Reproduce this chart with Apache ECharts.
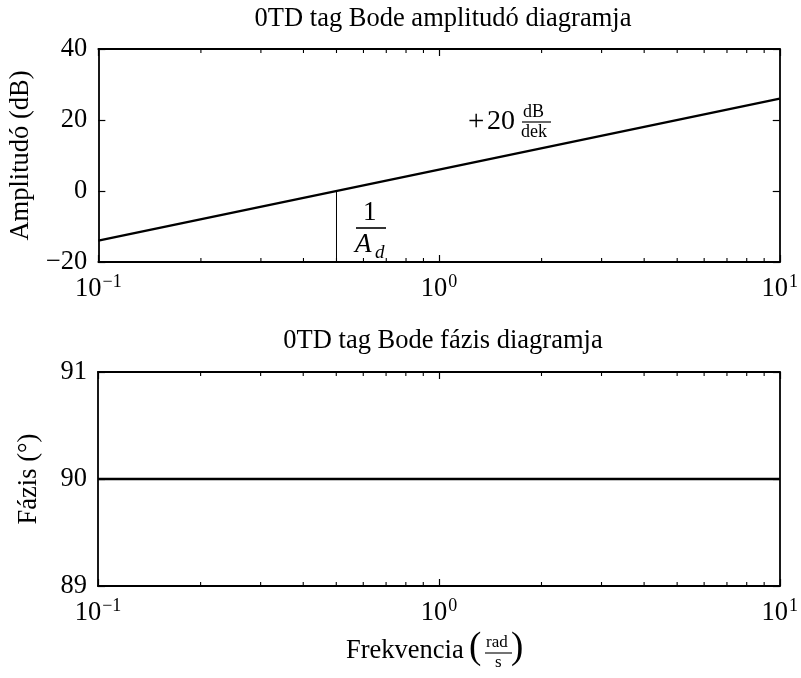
<!DOCTYPE html>
<html>
<head>
<meta charset="utf-8">
<script src="https://cdn.jsdelivr.net/npm/echarts@6/dist/echarts.min.js"></script>
<style>html,body{margin:0;padding:0;background:#fff;}#c{width:801px;height:678px;}</style>
</head>
<body>
<div id="c"></div>
<script>
// ---- data ----
const freq = [0.1, 10];                 // rad/s
const amplitude = [-13.98, 26.02];      // dB (+20 dB/dek)
const crossFreq = 0.5;                  // 1/A_d, where amplitude = 0 dB
const crossLine = [-20, 0];             // vertical marker from bottom to 0 dB
const phase = [90, 90];                 // degrees
const xTicks = [0.1, 1, 10];
const minorTicks = [0.2,0.3,0.4,0.5,0.6,0.7,0.8,0.9,2,3,4,5,6,7,8,9];
const ampTicks = [-20, 0, 20, 40];
const phaseTicks = [89, 90, 91];
const titles = ['0TD tag Bode amplitudó diagramja', '0TD tag Bode fázis diagramja'];

const FONT = 'Liberation Serif';
const FS = 26.5;
const chart = echarts.init(document.getElementById('c'));

function xLabel(v) {
  const e = Math.round(Math.log10(v));
  return '{b|10}{s|' + String(e).replace('-', '\u2212') + '}';
}
const xRich = {
  b: { fontFamily: FONT, fontSize: FS, color: '#000', verticalAlign: 'bottom', lineHeight: 29 },
  s: { fontFamily: FONT, fontSize: 18, color: '#000', verticalAlign: 'bottom', lineHeight: 29, padding: [0, 0, 12, 1] }
};
const lineStyleAx = { color: '#000', width: 1.8 };
const tickStyle = { color: '#000', width: 1.2 };

function makeX(gi, showLabel) {
  return [{
    type: 'log', logBase: 10, min: xTicks[0], max: xTicks[xTicks.length - 1], gridIndex: gi, position: 'bottom',
    axisLine: { show: true, onZero: false, lineStyle: lineStyleAx },
    axisTick: { show: true, inside: true, length: 7, lineStyle: tickStyle },
    axisLabel: { show: showLabel, formatter: xLabel, rich: xRich, margin: 12 },
    splitLine: { show: false }
  }, {
    type: 'log', logBase: 10, min: xTicks[0], max: xTicks[xTicks.length - 1], gridIndex: gi, position: 'top',
    axisLine: { show: true, onZero: false, lineStyle: lineStyleAx },
    axisTick: { show: true, inside: true, length: 7, lineStyle: tickStyle },
    axisLabel: { show: false }, splitLine: { show: false }
  }];
}
function makeY(gi, ticks, name, gap) {
  const mn = ticks[0], mx = ticks[ticks.length - 1], iv = ticks[1] - ticks[0];
  return [{
    type: 'value', min: mn, max: mx, interval: iv, gridIndex: gi, position: 'left',
    name: name, nameLocation: 'middle', nameGap: gap,
    nameTextStyle: { fontFamily: FONT, fontSize: FS, color: '#000' },
    axisLine: { show: true, onZero: false, lineStyle: lineStyleAx },
    axisTick: { show: true, inside: true, length: 7, lineStyle: tickStyle },
    axisLabel: { fontFamily: FONT, fontSize: FS, color: '#000', margin: 11,
      formatter: v => String(v).replace('-', '\u2212') },
    splitLine: { show: false }
  }, {
    type: 'value', min: mn, max: mx, interval: iv, gridIndex: gi, position: 'right',
    axisLine: { show: true, onZero: false, lineStyle: lineStyleAx },
    axisTick: { show: true, inside: true, length: 7, lineStyle: tickStyle },
    axisLabel: { show: false }, splitLine: { show: false }
  }];
}
function minorSeries(xi, yi, ymin) {
  return {
    type: 'custom', xAxisIndex: xi, yAxisIndex: yi, silent: true, clip: false,
    data: minorTicks.map(v => [v, ymin]),
    renderItem: function (params, api) {
      const x = api.coord([api.value(0), api.value(1)])[0];
      const cs = params.coordSys;
      const st = { stroke: '#000', lineWidth: 1.1 };
      return { type: 'group', children: [
        { type: 'line', shape: { x1: x, y1: cs.y, x2: x, y2: cs.y + 4 }, style: st },
        { type: 'line', shape: { x1: x, y1: cs.y + cs.height, x2: x, y2: cs.y + cs.height - 4 }, style: st }
      ]};
    }
  };
}

const option = {
  backgroundColor: '#fff',
  animation: false,
  title: [
    { text: titles[0], left: 438, top: 1, textAlign: 'center', textStyle: { fontFamily: FONT, fontSize: FS, fontWeight: 'normal', color: '#000' } },
    { text: titles[1], left: 438, top: 323, textAlign: 'center', textStyle: { fontFamily: FONT, fontSize: FS, fontWeight: 'normal', color: '#000' } }
  ],
  grid: [
    { left: 98, top: 49, width: 685, height: 213 },
    { left: 98, top: 372, width: 685, height: 214 }
  ],
  xAxis: [].concat(makeX(0, true), makeX(1, true)),
  yAxis: [].concat(makeY(0, ampTicks, 'Amplitudó (dB)', 62), makeY(1, phaseTicks, 'Fázis (°)', 55)),
  series: [
    { type: 'line', xAxisIndex: 0, yAxisIndex: 0, data: freq.map((f, i) => [f, amplitude[i]]),
      symbol: 'none', lineStyle: { color: '#000', width: 2.5 } },
    { type: 'line', xAxisIndex: 0, yAxisIndex: 0, data: crossLine.map(a => [crossFreq, a]),
      symbol: 'none', lineStyle: { color: '#000', width: 1 } },
    { type: 'line', xAxisIndex: 2, yAxisIndex: 2, data: freq.map((f, i) => [f, phase[i]]),
      symbol: 'none', lineStyle: { color: '#000', width: 2.5 } },
    minorSeries(0, 0, ampTicks[0]),
    minorSeries(2, 2, phaseTicks[0])
  ],
  graphic: [
    // +20 dB/dek
    { type: 'text', left: 468, top: 108, style: { text: '+', fontFamily: FONT, fontSize: 29, fill: '#000' } },
    { type: 'text', left: 487, top: 108, style: { text: '20', fontFamily: FONT, fontSize: 28, fill: '#000' } },
    { type: 'text', left: 523, top: 103, style: { text: 'dB', fontFamily: FONT, fontSize: 18, fill: '#000' } },
    { type: 'line', shape: { x1: 522, y1: 122, x2: 551, y2: 122 }, style: { stroke: '#000', lineWidth: 1.2 } },
    { type: 'text', left: 521, top: 123, style: { text: 'dek', fontFamily: FONT, fontSize: 18, fill: '#000' } },
    // 1 / A_d
    { type: 'text', left: 363, top: 199, style: { text: '1', fontFamily: FONT, fontSize: 27, fill: '#000' } },
    { type: 'line', shape: { x1: 356, y1: 228, x2: 386, y2: 228 }, style: { stroke: '#000', lineWidth: 1.6 } },
    { type: 'text', left: 355, top: 231, style: { text: 'A', fontFamily: FONT, fontSize: 27, fontStyle: 'italic', fill: '#000' } },
    { type: 'text', left: 375, top: 243, style: { text: 'd', fontFamily: FONT, fontSize: 19, fontStyle: 'italic', fill: '#000' } },
    // x label
    { type: 'text', left: 346, top: 638, style: { text: 'Frekvencia', fontFamily: FONT, fontSize: FS, fill: '#000' } },
    { type: 'text', left: 469, top: 630, style: { text: '(', fontFamily: FONT, fontSize: 37, fill: '#000' } },
    { type: 'text', left: 486, top: 634, style: { text: 'rad', fontFamily: FONT, fontSize: 17, fill: '#000' } },
    { type: 'line', shape: { x1: 485, y1: 653, x2: 512, y2: 653 }, style: { stroke: '#000', lineWidth: 1.1 } },
    { type: 'text', left: 495, top: 654, style: { text: 's', fontFamily: FONT, fontSize: 17, fill: '#000' } },
    { type: 'text', left: 511, top: 630, style: { text: ')', fontFamily: FONT, fontSize: 37, fill: '#000' } }
  ]
};
chart.setOption(option);
</script>
</body>
</html>
